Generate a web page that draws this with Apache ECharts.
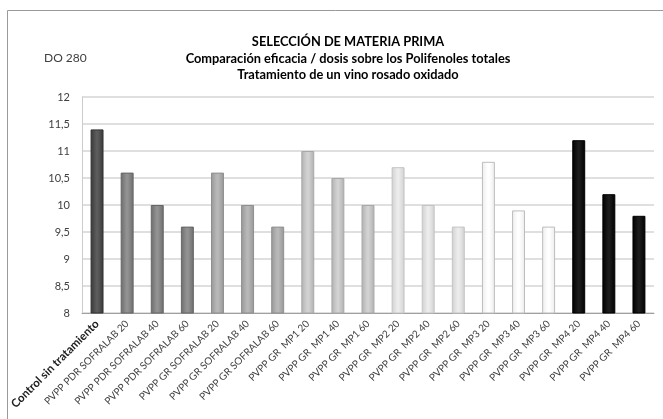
<!DOCTYPE html>
<html><head><meta charset="utf-8">
<script src="https://cdn.jsdelivr.net/npm/echarts@6/dist/echarts.min.js"></script>
<style>html,body{margin:0;padding:0;background:#fff}#c{width:663px;height:419px}</style>
</head><body><div id="c"></div>
<script>
var categories = ['Control sin tratamiento','PVPP PDR SOFRALAB 20','PVPP PDR SOFRALAB 40','PVPP PDR SOFRALAB 60',
 'PVPP GR SOFRALAB 20','PVPP GR SOFRALAB 40','PVPP GR SOFRALAB 60',
 'PVPP GR  MP1 20','PVPP GR  MP1 40','PVPP GR  MP1 60',
 'PVPP GR  MP2 20','PVPP GR  MP2 40','PVPP GR  MP2 60',
 'PVPP GR  MP3 20','PVPP GR  MP3 40','PVPP GR  MP3 60',
 'PVPP GR  MP4 20','PVPP GR  MP4 40','PVPP GR  MP4 60'];
var values = [11.4, 10.6, 10.0, 9.6, 10.6, 10.0, 9.6, 11.0, 10.5, 10.0, 10.7, 10.0, 9.6, 10.8, 9.9, 9.6, 11.2, 10.2, 9.8];
var groups = [0,1,1,1,2,2,2,3,3,3,4,4,4,5,5,5,6,6,6];
var yTicks = [8, 8.5, 9, 9.5, 10, 10.5, 11, 11.5, 12];

var groupStyles = [
  {edge:'#383838', mid:'#5c5c5c', border:'#333333'},
  {edge:'#6c6c6c', mid:'#929292', border:'#666666'},
  {edge:'#969696', mid:'#b8b8b8', border:'#8f8f8f'},
  {edge:'#b0b0b0', mid:'#d2d2d2', border:'#a8a8a8'},
  {edge:'#d0d0d0', mid:'#ececec', border:'#c4c4c4'},
  {edge:'#ececec', mid:'#ffffff', border:'#bdbdbd'},
  {edge:'#000000', mid:'#1c1c1c', border:'#000000'}
];
function fill(s){
  return new echarts.graphic.LinearGradient(0,0,1,0,[
    {offset:0,color:s.edge},{offset:0.45,color:s.mid},{offset:0.55,color:s.mid},{offset:1,color:s.edge}]);
}
var chart = echarts.init(document.getElementById('c'));
var font = 'Lato, "Open Sans", sans-serif';
chart.setOption({
  animation:false,
  textStyle:{fontFamily:font},
  graphic:[
    {type:'rect', shape:{x:7.5,y:10.5,width:700,height:500}, style:{fill:'none',stroke:'#9a9a9a',lineWidth:1}},
    {type:'text', x:44, y:52, style:{text:'DO 280', fill:'#404040', font:'12px '+font}},
    {type:'text', x:348, y:34, style:{text:'SELECCIÓN DE MATERIA PRIMA\nComparación eficacia / dosis sobre los Polifenoles totales\nTratamiento de un vino rosado oxidado', fill:'#000', font:'bold 12.8px '+font, textAlign:'center', lineHeight:16.5}}
  ],
  grid:{left:82, right:9, top:97, bottom:106},
  xAxis:{type:'category', data:categories,
    axisLine:{lineStyle:{color:'#a0a0a0'}}, axisTick:{show:false},
    axisLabel:{rotate:45, interval:0, fontSize:10, color:'#404040', margin:9,
      formatter:function(v,i){return i===0?'{b|'+v+'}':v;},
      rich:{b:{fontWeight:'bold', fontSize:11.5, color:'#202020'}}}},
  yAxis:{type:'value', min:8, max:12, interval:0.5,
    axisLine:{show:true, lineStyle:{color:'#cccccc'}}, axisTick:{show:false},
    splitLine:{lineStyle:{color:'#d4d4d4', width:1.5}},
    axisLabel:{fontSize:11, color:'#404040', margin:12,
      formatter:function(v){return yTicks.indexOf(v)>=0 ? String(v).replace('.',',') : '';}}},
  series:[{type:'bar', barWidth:'43%',
    data:values.map(function(v,i){var s=groupStyles[groups[i]];
      return {value:v, itemStyle:{color:fill(s), borderColor:s.border, borderWidth:1}};})
  }]
});
</script></body></html>
